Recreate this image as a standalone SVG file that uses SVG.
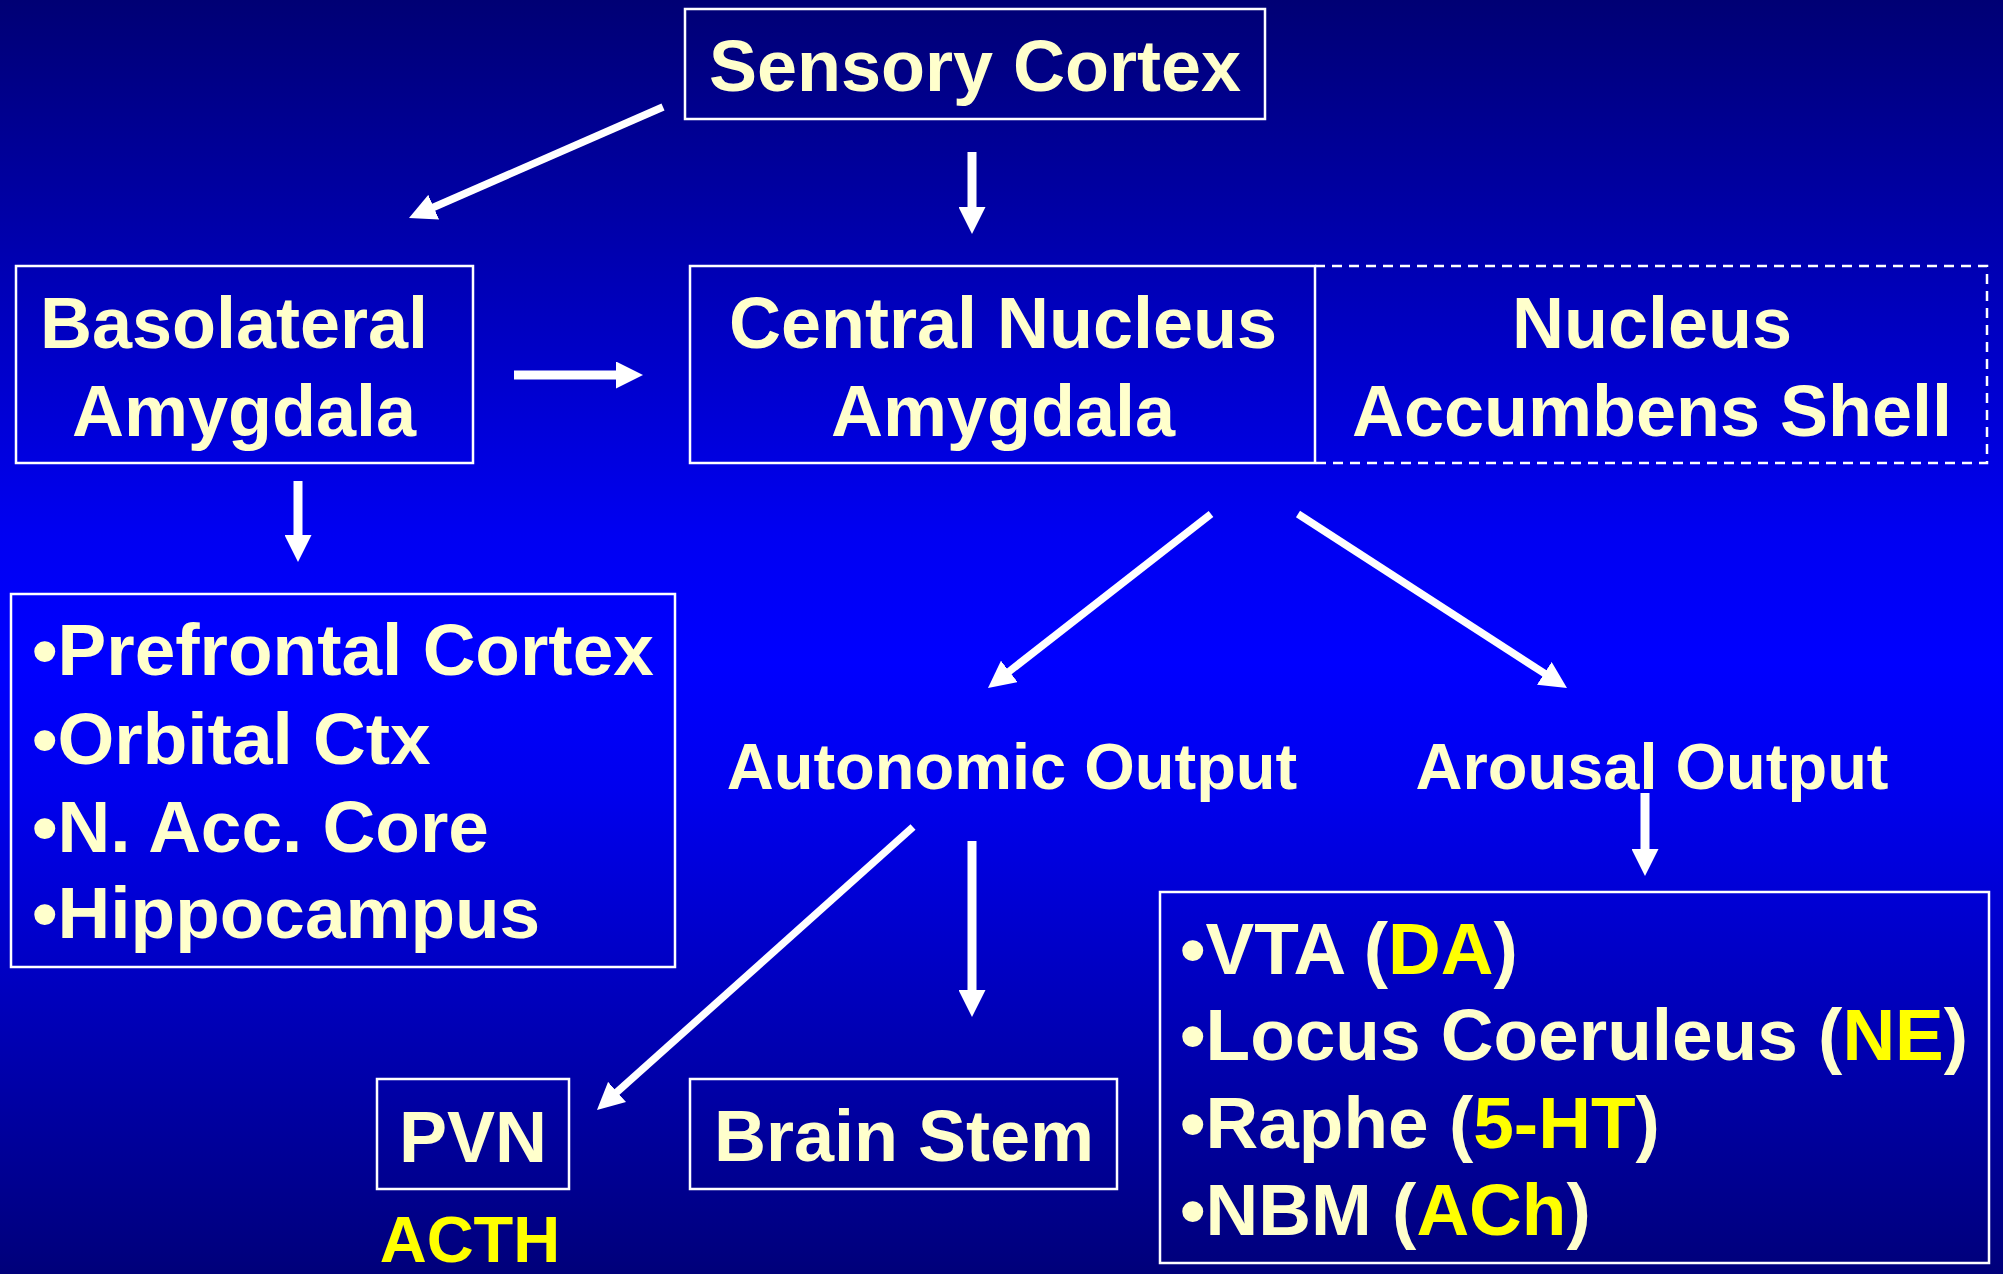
<svg xmlns="http://www.w3.org/2000/svg" width="2003" height="1274" viewBox="0 0 2003 1274">
  <defs>
    <linearGradient id="bg" x1="0" y1="0" x2="0" y2="1">
      <stop offset="0" stop-color="#000074"/>
      <stop offset="0.42" stop-color="#0000F2"/>
      <stop offset="0.52" stop-color="#0000FF"/>
      <stop offset="0.62" stop-color="#0000EE"/>
      <stop offset="1" stop-color="#00007A"/>
    </linearGradient>
    <marker id="ah" markerUnits="userSpaceOnUse" markerWidth="27" markerHeight="27" viewBox="0 0 27 27" refX="2" refY="13.5" orient="auto">
      <path d="M0,0 L27,13.5 L0,27 z" fill="#FFFFFF"/>
    </marker>
    <style>
      .box { fill: none; stroke: #FFFFFF; stroke-width: 2.5; }
      .dash { fill: none; stroke: #FFFFFF; stroke-width: 2.5; stroke-dasharray: 10 7; }
      .t { font-family: "Liberation Sans", Arial, sans-serif; font-weight: bold; font-size: 72px; fill: #FFFFCC; }
      .l { font-size: 73px; }
      .m { text-anchor: middle; }
      .o { font-size: 65px; }
      .y { fill: #FFFF00; }
      .d { stroke: #FFFFFF; stroke-width: 7.5; fill: none; marker-end: url(#ah); }
      .s { stroke: #FFFFFF; stroke-width: 9; fill: none; marker-end: url(#ah); }
    </style>
  </defs>
  <rect x="0" y="0" width="2003" height="1274" fill="url(#bg)"/>

  <g id="connectors">
    <line class="d" x1="663" y1="107" x2="431.9" y2="208"/>
    <line class="s" x1="972" y1="152" x2="972" y2="209"/>
    <line class="s" x1="514" y1="375" x2="618" y2="375"/>
    <line class="s" x1="298" y1="481" x2="298" y2="537"/>
    <line class="d" x1="1211" y1="514" x2="1007.7" y2="672.6"/>
    <line class="d" x1="1298" y1="514" x2="1546" y2="674.4"/>
    <line class="s" x1="1645" y1="793" x2="1645" y2="851"/>
    <line class="d" x1="913" y1="827" x2="615.6" y2="1093.3"/>
    <line class="s" x1="972" y1="841" x2="972" y2="992"/>
  </g>

  <g id="sensory-cortex">
    <rect class="box" x="685" y="9" width="580" height="110"/>
    <text class="t m" x="975" y="91">Sensory Cortex</text>
  </g>

  <g id="basolateral-amygdala">
    <rect class="box" x="16" y="266" width="457" height="197"/>
    <text class="t m" x="234" y="348">Basolateral</text>
    <text class="t m" x="244" y="436">Amygdala</text>
  </g>

  <g id="central-nucleus">
    <rect class="box" x="690" y="266" width="625" height="197"/>
    <text class="t m" x="1003" y="348">Central Nucleus</text>
    <text class="t m" x="1003" y="436">Amygdala</text>
  </g>

  <g id="nucleus-accumbens-shell">
    <path class="dash" d="M1315,266 H1987 V463 H1315"/>
    <text class="t m" x="1652" y="348">Nucleus</text>
    <text class="t m" x="1652" y="436">Accumbens Shell</text>
  </g>

  <g id="basolateral-targets">
    <rect class="box" x="11" y="594" width="664" height="373"/>
    <text class="t l" x="32" y="675">•Prefrontal Cortex</text>
    <text class="t l" x="32" y="764">•Orbital Ctx</text>
    <text class="t l" x="32" y="852">•N. Acc. Core</text>
    <text class="t l" x="32" y="938">•Hippocampus</text>
  </g>

  <g id="autonomic-output">
    <text class="t o m" x="1012" y="789">Autonomic Output</text>
  </g>

  <g id="arousal-output">
    <text class="t o m" x="1652" y="789">Arousal Output</text>
  </g>

  <g id="pvn">
    <rect class="box" x="377" y="1079" width="192" height="110"/>
    <text class="t m" x="473" y="1162">PVN</text>
    <text class="t o m y" x="470" y="1262">ACTH</text>
  </g>

  <g id="brain-stem">
    <rect class="box" x="690" y="1079" width="427" height="110"/>
    <text class="t m" x="904" y="1161">Brain Stem</text>
  </g>

  <g id="arousal-targets">
    <rect class="box" x="1160" y="892" width="829" height="371"/>
    <text class="t l" x="1180" y="974">•VTA (<tspan class="y">DA</tspan>)</text>
    <text class="t l" x="1180" y="1060">•Locus Coeruleus (<tspan class="y">NE</tspan>)</text>
    <text class="t l" x="1180" y="1148">•Raphe (<tspan class="y">5-HT</tspan>)</text>
    <text class="t l" x="1180" y="1235">•NBM (<tspan class="y">ACh</tspan>)</text>
  </g>
</svg>
